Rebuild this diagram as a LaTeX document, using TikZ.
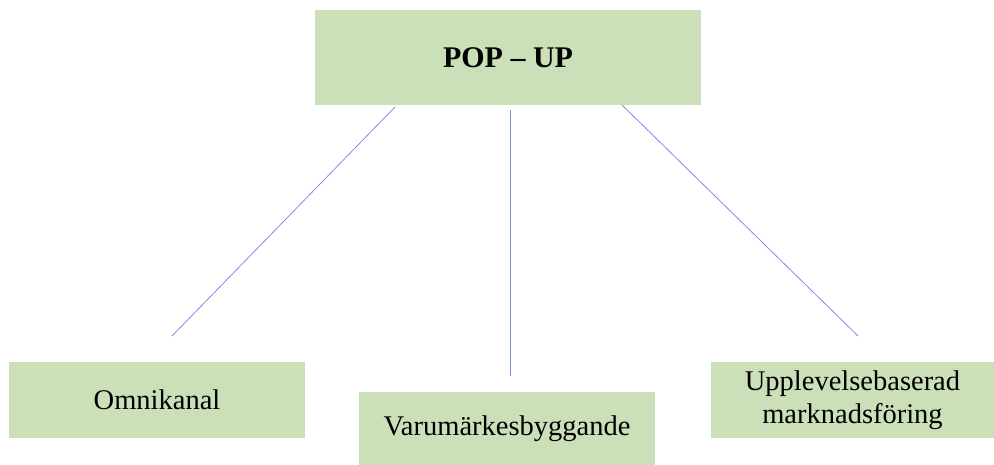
\documentclass[tikz,border=0pt]{standalone}
\usepackage{fontspec}
\setmainfont{Liberation Serif}
\definecolor{boxgreen}{RGB}{203,223,184}
\definecolor{linkblue}{RGB}{120,145,220}
\tikzset{
  box/.style={fill=boxgreen, draw=none, inner sep=0pt, align=center, font=\fontsize{28.5}{33}\selectfont},
  link/.style={draw=linkblue, line width=0.8pt}
}
\begin{document}
\begin{tikzpicture}[x=1pt,y=-1pt]
\useasboundingbox (0,0) rectangle (994,465);
\node[box, minimum width=386pt, minimum height=95pt, font=\fontsize{30}{34}\selectfont\bfseries] (top) at (508,57.5) {POP -- UP};
\node[box, minimum width=296pt, minimum height=76pt] (omni) at (157,400) {Omnikanal};
\node[box, minimum width=296pt, minimum height=73pt] (varu) at (507,428.5) {Varumärkesbyggande};
\node[box, minimum width=283pt, minimum height=76pt] (uppl) at (852.5,400) {Upplevelsebaserad\\marknadsföring};
\coordinate (l1a) at (395,107);
\coordinate (l1b) at (172,336);
\coordinate (l2a) at (510,110);
\coordinate (l2b) at (510,376);
\coordinate (l3a) at (622,105);
\coordinate (l3b) at (858,336);
\draw[link] (l1a) -- (l1b);
\draw[link] (l2a) -- (l2b);
\draw[link] (l3a) -- (l3b);
\end{tikzpicture}
\end{document}
